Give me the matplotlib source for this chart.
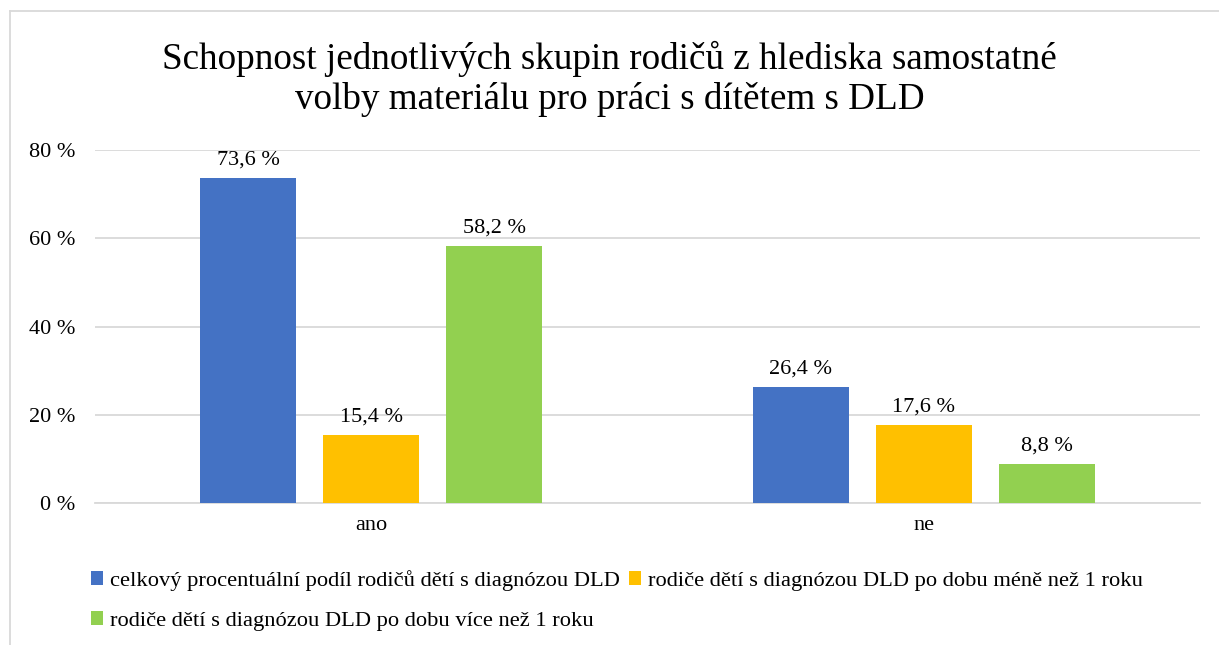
import matplotlib
matplotlib.use("Agg")
import matplotlib.pyplot as plt
from matplotlib.lines import Line2D
import numpy as np

categories = ["ano", "ne"]
series_names = [
    "celkový procentuální podíl rodičů dětí s diagnózou DLD",
    "rodiče dětí s diagnózou DLD po dobu méně než 1 roku",
    "rodiče dětí s diagnózou DLD po dobu více než 1 roku",
]
celkovy = [73.6, 26.4]
mene_1 = [15.4, 17.6]
vice_1 = [58.2, 8.8]
colors = ["#4472C4", "#FFC000", "#92D050"]
yticks = [0, 20, 40, 60, 80]

plt.rcParams['font.family'] = ['Liberation Serif', 'DejaVu Serif']

fig = plt.figure(figsize=(12.19, 6.45), dpi=100)
ax = fig.add_axes([95/1219, 1-503/645, (1200-95)/1219, (503-150)/645])

x = np.arange(len(categories))
width = 0.174
step = 0.2226
handles = []
for i, (vals, c, name) in enumerate(zip([celkovy, mene_1, vice_1], colors, series_names)):
    pos = x + (i - 1) * step
    bars = ax.bar(pos, vals, width=width, color=c, label=name, zorder=3)
    handles.append(bars)
    for p, v in zip(pos, vals):
        ax.annotate(f"{v:.1f} %".replace(".", ","), (p, v), xytext=(0, 6),
                    textcoords="offset points", ha="center", va="bottom",
                    fontsize=16, color="#000000")

ax.set_xlim(-0.5, 1.5)
ax.set_ylim(0, 80)
ax.set_yticks(yticks)
ax.set_yticklabels([f"{t} %" for t in yticks], fontsize=16)
ax.set_xticks(x)
ax.set_xticklabels(categories, fontsize=16)
ax.tick_params(axis="y", length=0, pad=14)
ax.tick_params(axis="x", length=0, pad=9)
ax.grid(axis="y", color="#D9D9D9", linewidth=1.3, zorder=0)
for s in ["top", "right", "left"]:
    ax.spines[s].set_visible(False)
ax.spines["bottom"].set_color("#D9D9D9")
ax.spines["bottom"].set_linewidth(1.3)

fig.text(0.5, 1-79/645, "Schopnost jednotlivých skupin rodičů z hlediska samostatné\nvolby materiálu pro práci s dítětem s DLD",
         ha="center", va="center", fontsize=26.7, linespacing=1.18)

order = [0, 2, 1]
leg = fig.legend([handles[i] for i in order], [series_names[i] for i in order], ncol=2,
                 loc="upper left", bbox_to_anchor=(82/1219, 1-561/645),
                 frameon=False, fontsize=16.2, handlelength=0.55, handleheight=0.55,
                 handletextpad=0.3, columnspacing=0.4, labelspacing=0.9, borderaxespad=0)

# outer border
fig.add_artist(Line2D([10/1219, 10/1219], [0, 1-11/645], transform=fig.transFigure, color="#D9D9D9", lw=1.3))
fig.add_artist(Line2D([10/1219, 1], [1-11/645, 1-11/645], transform=fig.transFigure, color="#D9D9D9", lw=1.3))

fig.savefig("out.png", dpi=100)
